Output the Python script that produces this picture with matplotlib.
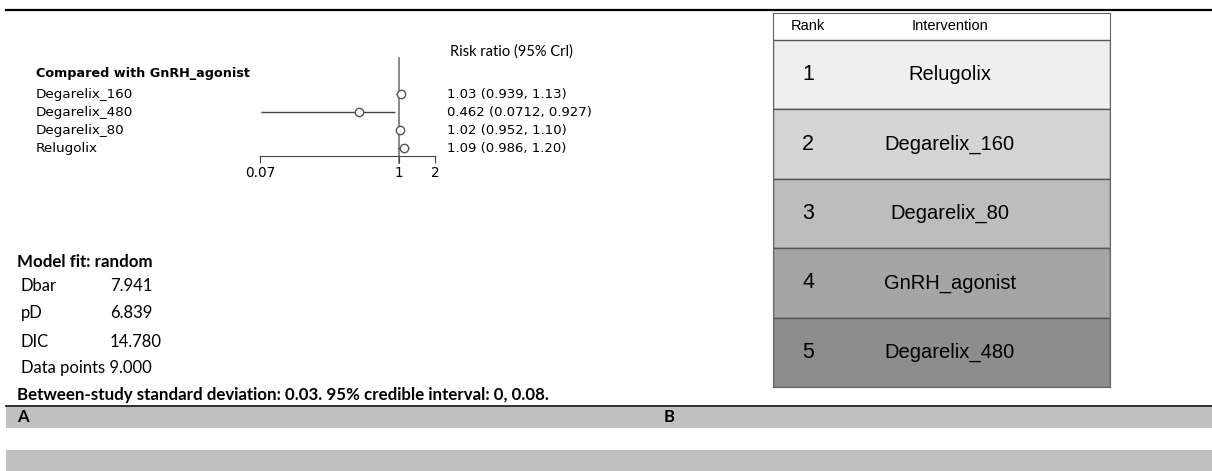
import matplotlib
matplotlib.use("Agg")
import matplotlib.pyplot as plt
from matplotlib.transforms import blended_transform_factory

# forest plot data (risk ratio vs GnRH_agonist)
treatments = ["Degarelix_160", "Degarelix_480", "Degarelix_80", "Relugolix"]
rr = [1.03, 0.462, 1.02, 1.09]
lower = [0.939, 0.0712, 0.952, 0.986]
upper = [1.13, 0.927, 1.10, 1.20]
ci_text = ["1.03 (0.939, 1.13)", "0.462 (0.0712, 0.927)",
           "1.02 (0.952, 1.10)", "1.09 (0.986, 1.20)"]
xticks = [0.07, 1, 2]
xtick_labels = ["0.07", "1", "2"]

# model fit table
fit_names = ["Dbar", "pD", "DIC"]
fit_values = ["7.941", "6.839", "14.780"]
data_points = "9.000"

# ranking table
ranks = [1, 2, 3, 4, 5]
ranked = ["Relugolix", "Degarelix_160", "Degarelix_80", "GnRH_agonist", "Degarelix_480"]
shades = ["#efefef", "#d5d5d5", "#bdbdbd", "#a5a5a5", "#8d8d8d"]

W, H = 1212, 471
fig = plt.figure(figsize=(W / 100, H / 100), dpi=100)

# canvas axes in pixel units for the loose text and bands
ax0 = fig.add_axes([0, 0, 1, 1])
ax0.set_xlim(0, W)
ax0.set_ylim(H, 0)
ax0.axis("off")

ax0.plot([6, W], [10, 10], color="black", lw=1.6)
ax0.fill_between([6, W], 406, 428, color="#c0c0c0", lw=0)
ax0.fill_between([6, W], 450, H, color="#c0c0c0", lw=0)
ax0.plot([6, W], [405.5, 405.5], color="#222222", lw=1.3)

calibri = "Lato"
ax0.text(17, 262, "Model fit: random", family=calibri, weight="bold",
         fontsize=12.2, va="center")
for i, (n, v) in enumerate(zip(fit_names, fit_values)):
    y = [286, 313, 342][i]
    ax0.text(21, y, n, family=calibri, fontsize=12, va="center")
    ax0.text(110, y, v, family=calibri, fontsize=12, va="center")
ax0.text(21, 368, "Data points " + data_points, family=calibri, fontsize=12, va="center")
ax0.text(17, 395, "Between-study standard deviation: 0.03. 95% credible interval: 0, 0.08.",
         family=calibri, weight="bold", fontsize=12.2, va="center")
ax0.text(17, 417, "A", family=calibri, weight="bold", fontsize=12, va="center")
ax0.text(664, 417, "B", family=calibri, weight="bold", fontsize=12, va="center")

# forest plot
ax = fig.add_axes([260 / W, 1 - 156 / H, 175.3 / W, 98 / H])
ax.set_xscale("log")
ax.set_xlim(0.07, 2)
ax.set_ylim(4.444, -1.0)
pos = [1, 2, 3, 4]
ax.axvline(1, ymin=-0.07, ymax=1, color="#777777", lw=1.2, clip_on=False, zorder=1)
ax.hlines(pos, lower, upper, color="#444444", lw=1, zorder=2)
ax.plot(rr, pos, "o", ms=6, mfc="white", mec="#555555", mew=1, zorder=3)
for s in ["top", "right", "left"]:
    ax.spines[s].set_visible(False)
ax.spines["bottom"].set_color("#444444")
ax.set_facecolor("none")
ax.set_yticks([])
ax.set_xticks(xticks)
ax.set_xticklabels(xtick_labels, family="DejaVu Sans", fontsize=9.8)
ax.minorticks_off()
ax.tick_params(axis="x", length=5, color="#444444", pad=2.5)

tr = blended_transform_factory(ax0.transData, ax.transData)
for p, name, label in zip(pos, treatments, ci_text):
    ax.text(36, p, name, transform=tr, family="DejaVu Sans", fontsize=9.7, va="center")
    ax.text(447, p, label, transform=tr, family="DejaVu Sans", fontsize=9.5, va="center")
ax0.text(36, 73, "Compared with GnRH_agonist", family="DejaVu Sans", weight="bold",
         fontsize=9.2, va="center")
ax0.text(450, 52, "Risk ratio (95% Crl)", family=calibri, fontsize=10.5, va="center")

# ranking table
hh = 27 / 69.4
tx = fig.add_axes([773 / W, 1 - 387 / H, 337 / W, 374 / H])
tx.set_xlim(0, 1)
tx.set_ylim(5.5, 0.5 - hh)
tx.barh(ranks, 1, left=0, height=1, color=shades, edgecolor="#555555", lw=1)
tx.set_xticks([])
tx.set_yticks([])
for s in tx.spines.values():
    s.set_color("#666666")
hy = 0.5 - hh / 2
tx.text(0.104, hy, "Rank", family="Liberation Sans", fontsize=10.5, ha="center", va="center")
tx.text(0.525, hy, "Intervention", family="Liberation Sans", fontsize=10.5,
        ha="center", va="center")
for r, name in zip(ranks, ranked):
    tx.text(0.104, r, str(r), family="Liberation Sans", fontsize=15.5, ha="center", va="center")
    tx.text(0.525, r, name, family="Liberation Sans", fontsize=14.5, ha="center", va="center")

fig.savefig("out.png", dpi=100)
